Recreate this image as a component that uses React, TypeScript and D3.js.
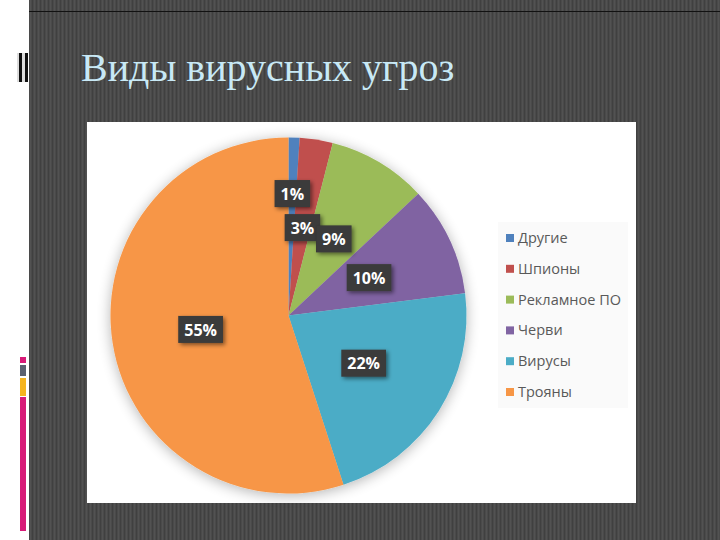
import React, { useEffect, useRef } from "react";
import * as d3 from "d3";

const categories = ["Другие", "Шпионы", "Рекламное ПО", "Черви", "Вирусы", "Трояны"];
const values = [1, 3, 9, 10, 22, 55];
const colors = ["#4F81BD", "#C0504D", "#9BBB59", "#8064A2", "#4BACC6", "#F79646"];
const title = "Виды вирусных угроз";

export default function App() {
  const ref = useRef<SVGSVGElement>(null);

  useEffect(() => {
    const svg = d3.select(ref.current);
    svg.selectAll("*").remove();
    const W = 720, H = 540;

    const defs = svg.append("defs");
    const pat = defs.append("pattern").attr("id", "stripes").attr("patternUnits", "userSpaceOnUse")
      .attr("width", 4).attr("height", 4);
    pat.append("rect").attr("width", 4).attr("height", 4).attr("fill", "#4a4a4a");
    pat.append("rect").attr("x", 0).attr("width", 1).attr("height", 4).attr("fill", "#404040");
    pat.append("rect").attr("x", 2).attr("width", 1).attr("height", 4).attr("fill", "#525252");

    const sh = defs.append("filter").attr("id", "pieShadow").attr("x", "-20%").attr("y", "-20%").attr("width", "140%").attr("height", "140%");
    sh.append("feGaussianBlur").attr("in", "SourceAlpha").attr("stdDeviation", 7).attr("result", "b");
    sh.append("feOffset").attr("in", "b").attr("dx", 0).attr("dy", 2).attr("result", "o");
    sh.append("feComponentTransfer").attr("in", "o").attr("result", "s")
      .append("feFuncA").attr("type", "linear").attr("slope", 0.3);
    const m = sh.append("feMerge");
    m.append("feMergeNode").attr("in", "s");
    m.append("feMergeNode").attr("in", "SourceGraphic");

    const ls = defs.append("filter").attr("id", "lblShadow").attr("x", "-30%").attr("y", "-30%").attr("width", "160%").attr("height", "160%");
    ls.append("feGaussianBlur").attr("in", "SourceAlpha").attr("stdDeviation", 2).attr("result", "b");
    ls.append("feOffset").attr("in", "b").attr("dx", 2).attr("dy", 2).attr("result", "o");
    ls.append("feComponentTransfer").attr("in", "o").attr("result", "s")
      .append("feFuncA").attr("type", "linear").attr("slope", 0.5);
    const m2 = ls.append("feMerge");
    m2.append("feMergeNode").attr("in", "s");
    m2.append("feMergeNode").attr("in", "SourceGraphic");

    // background
    svg.append("rect").attr("width", W).attr("height", H).attr("fill", "#ffffff");
    svg.append("rect").attr("x", 29).attr("y", 0).attr("width", W - 29).attr("height", H).attr("fill", "url(#stripes)");
    svg.append("line").attr("x1", 29).attr("x2", W).attr("y1", 11.5).attr("y2", 11.5).attr("stroke", "#111").attr("stroke-width", 1.2);

    // left decorations
    const deco = svg.append("g");
    deco.append("rect").attr("x", 17).attr("y", 53).attr("width", 11).attr("height", 29).attr("fill", "#ddd");
    deco.append("rect").attr("x", 19).attr("y", 53).attr("width", 3).attr("height", 29).attr("fill", "#111");
    deco.append("rect").attr("x", 25).attr("y", 53).attr("width", 3).attr("height", 29).attr("fill", "#111");
    deco.append("rect").attr("x", 20).attr("y", 357).attr("width", 6).attr("height", 6).attr("fill", "#D81B78");
    deco.append("rect").attr("x", 20).attr("y", 365).attr("width", 6).attr("height", 11).attr("fill", "#5B6170");
    deco.append("rect").attr("x", 20).attr("y", 378).attr("width", 6).attr("height", 18).attr("fill", "#F5B41E");
    deco.append("rect").attr("x", 20).attr("y", 397).attr("width", 6).attr("height", 134).attr("fill", "#D81B78");

    // title
    svg.append("text").attr("x", 81).attr("y", 81).attr("fill", "#C8E9F6")
      .attr("font-family", "'Liberation Serif', 'DejaVu Serif', serif").attr("font-size", 40)
      .text(title);

    // chart area
    svg.append("rect").attr("x", 87).attr("y", 122).attr("width", 549).attr("height", 381).attr("fill", "#ffffff");

    const cx = 288.5, cy = 315.5, R = 178;
    const pie = d3.pie<number>().sort(null).value(d => d);
    const arcs = pie(values);
    const arc = d3.arc<d3.PieArcDatum<number>>().innerRadius(0).outerRadius(R);
    const g = svg.append("g").attr("transform", `translate(${cx},${cy})`);
    g.append("g").attr("filter", "url(#pieShadow)").selectAll("path").data(arcs).join("path")
      .attr("d", arc).attr("fill", (_, i) => colors[i]);

    // labels
    const total = d3.sum(values);
    const lg = g.append("g");
    type Box = { x: number; y: number; w: number; h: number };
    const overlap = (a: Box, b: Box) => {
      const ox = Math.min(a.x + a.w, b.x + b.w) - Math.max(a.x, b.x);
      const oy = Math.min(a.y + a.h, b.y + b.h) - Math.max(a.y, b.y);
      return ox > 10 && oy > -7;
    };
    const groups = arcs.map((a, i) => {
      const grp = lg.append("g");
      const txt = `${Math.round((values[i] / total) * 100)}%`;
      const t = grp.append("text").attr("text-anchor", "middle").attr("dy", "0.35em")
        .attr("fill", "#ffffff").attr("font-weight", "bold").attr("font-size", 16)
        .attr("font-family", "'Open Sans', 'Noto Sans', sans-serif").text(txt);
      return { grp, t };
    });
    const boxes: Box[] = new Array(arcs.length);
    const placed: Box[] = [];
    d3.range(arcs.length).reverse().forEach(i => {
      const a = arcs[i];
      const mid = (a.startAngle + a.endAngle) / 2;
      const tw = (groups[i].t.node() as SVGTextElement).getComputedTextLength();
      const w = tw + 12, h = 27;
      let r = R * 0.5;
      let box: Box;
      for (;;) {
        const x = Math.sin(mid) * r, y = -Math.cos(mid) * r;
        box = { x: x - w / 2, y: y - h / 2, w, h };
        if (!placed.some(p => overlap(box, p)) || r > R) break;
        r += 1;
      }
      placed.push(box);
      boxes[i] = box;
    });
    groups.forEach(({ grp, t }, i) => {
      const box = boxes[i];
      grp.insert("rect", "text").attr("x", box.x).attr("y", box.y).attr("width", box.w).attr("height", box.h)
        .attr("fill", "#3A3A3A").attr("filter", "url(#lblShadow)");
      t.attr("x", box.x + box.w / 2).attr("y", box.y + box.h / 2 + 0.5);
    });

    // legend
    svg.append("rect").attr("x", 498).attr("y", 222).attr("width", 130).attr("height", 186).attr("fill", "#fafafa");
    const leg = svg.append("g").attr("transform", "translate(506,238)");
    categories.forEach((c, i) => {
      const y = i * 30.8;
      leg.append("rect").attr("x", 0).attr("y", y - 4).attr("width", 8).attr("height", 8).attr("fill", colors[i]);
      leg.append("text").attr("x", 12).attr("y", y).attr("dy", "0.35em").attr("fill", "#595959")
        .attr("font-size", 14.5).attr("font-family", "'Open Sans', 'Noto Sans', sans-serif").text(c);
    });
  }, []);

  return <svg ref={ref} width={720} height={540} style={{ position: "absolute", left: 0, top: 0 }} />;
}
